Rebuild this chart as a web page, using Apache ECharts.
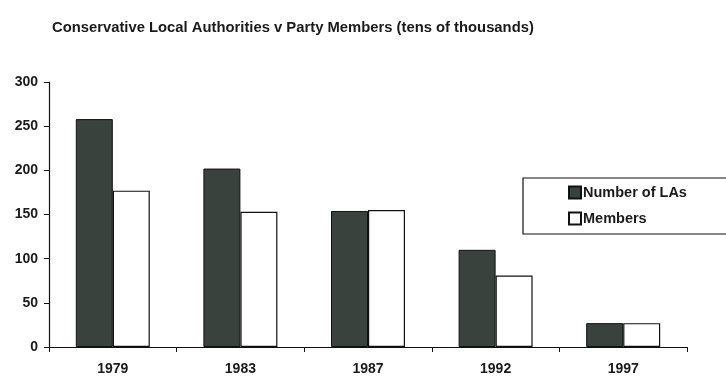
<!DOCTYPE html>
<html>
<head>
<meta charset="utf-8">
<script src="https://cdn.jsdelivr.net/npm/echarts@6/dist/echarts.min.js"></script>
<style>html,body{margin:0;padding:0;background:#fff;}#c{width:726px;height:376px;}</style>
</head>
<body>
<div id="c"></div>
<script>
var categories = ['1979', '1983', '1987', '1992', '1997'];
var numberOfLAs = [258, 202, 154, 110, 27];
var members = [177, 153, 155, 81, 27];
var yTicks = [0, 50, 100, 150, 200, 250, 300];

var chart = echarts.init(document.getElementById('c'), null, {renderer: 'canvas'});
var font = 'Liberation Sans, Arial, sans-serif';
chart.setOption({
  animation: false,
  backgroundColor: '#ffffff',
  title: {
    text: 'Conservative Local Authorities v Party Members (tens of thousands)',
    left: 47, top: 15,
    textStyle: {fontFamily: font, fontSize: 14.8, fontWeight: 'bold', color: '#1a1a1a'}
  },
  legend: {
    orient: 'vertical',
    left: 523, top: 178,
    padding: [7, 60, 8, 45],
    itemGap: 11,
    itemWidth: 12, itemHeight: 12,
    borderColor: '#111', borderWidth: 1.2,
    backgroundColor: '#fff',
    icon: 'rect',
    textStyle: {fontFamily: font, fontSize: 14.5, fontWeight: 'bold', color: '#1a1a1a', padding: [0, 0, 0, -3]},
    data: ['Number of LAs', 'Members']
  },
  grid: {left: 49, right: 39, top: 82, bottom: 29, containLabel: false},
  xAxis: {
    type: 'category',
    data: categories,
    axisLine: {lineStyle: {color: '#111', width: 1.2}},
    axisTick: {show: true, length: 5, lineStyle: {color: '#111'}},
    axisLabel: {fontFamily: font, fontSize: 14, fontWeight: 'bold', color: '#1a1a1a', margin: 15}
  },
  yAxis: {
    type: 'value',
    min: 0, max: 300, interval: 50,
    splitLine: {show: false},
    axisLine: {show: true, lineStyle: {color: '#111', width: 1.2}},
    axisTick: {show: true, length: 5, lineStyle: {color: '#111'}},
    axisLabel: {fontFamily: font, fontSize: 14, fontWeight: 'bold', color: '#1a1a1a', margin: 11,
      formatter: function (v) { return yTicks.indexOf(v) >= 0 ? String(v) : ''; }}
  },
  series: [
    {
      name: 'Number of LAs', type: 'bar', data: numberOfLAs,
      barWidth: 37, barGap: '0%',
      itemStyle: {color: '#39423c', borderColor: '#111', borderWidth: 1}
    },
    {
      name: 'Members', type: 'bar', data: members,
      barWidth: 37,
      itemStyle: {color: '#ffffff', borderColor: '#111', borderWidth: 1.2}
    }
  ]
});
</script>
</body>
</html>
